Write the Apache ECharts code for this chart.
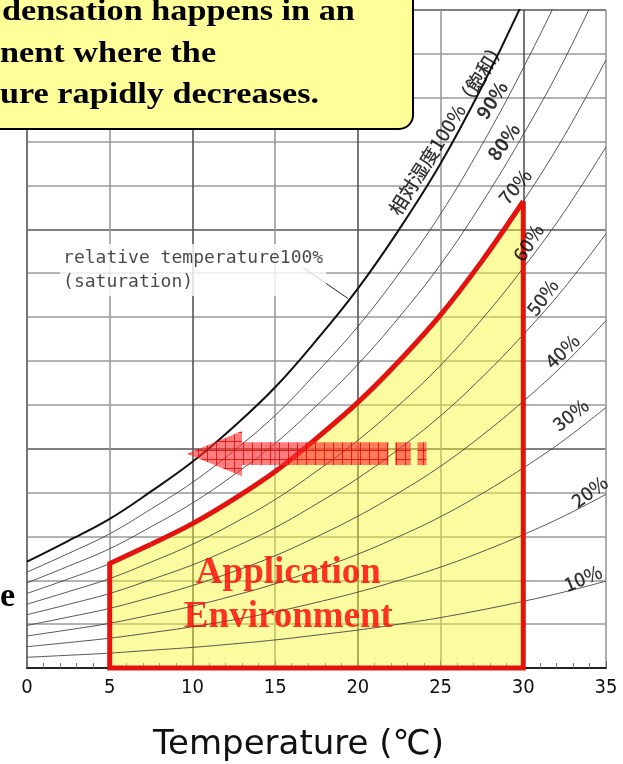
<!DOCTYPE html>
<html>
<head>
<meta charset="utf-8">
<script src="https://cdn.jsdelivr.net/npm/echarts@6/dist/echarts.min.js"></script>
<style>
html,body{margin:0;padding:0;background:#fff;}
#c{width:623px;height:764px;}
</style>
</head>
<body>
<div id="c"></div>
<script>
// ---- data ----
const temps = [0, 2.5, 5, 7.5, 10, 12.5, 15, 17.5, 20, 22.5, 25, 27.5, 30, 32.5, 35];
// absolute humidity (g/m3) along each relative-humidity curve
const rh100 = [4.85, 5.8, 6.8, 8.05, 9.4, 11.0, 12.8, 14.95, 17.3, 20.0, 23.0, 26.5, 30.4, 34.7, 39.6];
const rh90 = [4.37, 5.22, 6.12, 7.25, 8.46, 9.9, 11.52, 13.46, 15.57, 18.0, 20.7, 23.85, 27.36, 31.23, 35.64];
const rh80 = [3.88, 4.64, 5.44, 6.44, 7.52, 8.8, 10.24, 11.96, 13.84, 16.0, 18.4, 21.2, 24.32, 27.76, 31.68];
const rh70 = [3.40, 4.06, 4.76, 5.64, 6.58, 7.7, 8.96, 10.47, 12.11, 14.0, 16.1, 18.55, 21.28, 24.29, 27.72];
const rh60 = [2.91, 3.48, 4.08, 4.83, 5.64, 6.6, 7.68, 8.97, 10.38, 12.0, 13.8, 15.9, 18.24, 20.82, 23.76];
const rh50 = [2.43, 2.9, 3.4, 4.03, 4.7, 5.5, 6.4, 7.48, 8.65, 10.0, 11.5, 13.25, 15.2, 17.35, 19.8];
const rh40 = [1.94, 2.32, 2.72, 3.22, 3.76, 4.4, 5.12, 5.98, 6.92, 8.0, 9.2, 10.6, 12.16, 13.88, 15.84];
const rh30 = [1.46, 1.74, 2.04, 2.42, 2.82, 3.3, 3.84, 4.49, 5.19, 6.0, 6.9, 7.95, 9.12, 10.41, 11.88];
const rh20 = [0.97, 1.16, 1.36, 1.61, 1.88, 2.2, 2.56, 2.99, 3.46, 4.0, 4.6, 5.3, 6.08, 6.94, 7.92];
const rh10 = [0.49, 0.58, 0.68, 0.81, 0.94, 1.1, 1.28, 1.5, 1.73, 2.0, 2.3, 2.65, 3.04, 3.47, 3.96];

// application environment region (5-30 degC, under the 70% curve)
const envTemps = [5, 7.5, 10, 12.5, 15, 17.5, 20, 22.5, 25, 27.5, 30];
const envTop = [4.76, 5.64, 6.58, 7.7, 8.96, 10.47, 12.11, 14.0, 16.1, 18.55, 21.28];

// curve labels
const rhLabelText = ['90%', '80%', '70%', '60%', '50%', '40%', '30%', '20%', '10%', '相対湿度100%（飽和）'];
const rhLabelX = [28.1, 28.8, 29.5, 30.3, 31.15, 32.35, 32.85, 34.0, 33.6, 25.4];
const rhLabelY = [25.9, 24.0, 21.95, 19.4, 16.9, 14.45, 11.55, 8.05, 4.1, 24.65];
const rhLabelRot = [57, 54, 50, 57, 54, 44, 38, 36, 22, 58];

// arrow (cooling) in data coordinates
const arrowTip = [9.67, 9.77];
const arrowHeadBase = 13.0;
const arrowBodyEnd = 21.85;
const arrowDashes = [[22.25, 23.2], [23.6, 24.15]];
const arrowHeadHalf = 1.03;
const arrowBodyHalf = 0.52;

// saturation annotation
const satNoteText = 'relative temperature100%\n(saturation)';
const satNotePos = [2.0, 18.15];
const satLeader = [[16.7, 18.25], [19.4, 16.85]];

const envLabelPos = [15.8, 3.3];

const xTicks = [0, 35, 5];
const yTicks = [0, 30, 2];

// ---- chart ----
const chart = echarts.init(document.getElementById('c'), null, {renderer: 'canvas'});
const pair = (xs, ys) => xs.map((x, i) => [x, ys[i]]);

// hatch pattern for the arrow
const pc = document.createElement('canvas');
pc.width = 9; pc.height = 9;
const g = pc.getContext('2d');
g.fillStyle = 'rgba(255,45,45,0.62)';
g.fillRect(0, 0, 9, 9);
g.strokeStyle = 'rgba(225,0,0,0.75)';
g.lineWidth = 1;
g.beginPath(); g.moveTo(0.5, 0); g.lineTo(0.5, 9); g.moveTo(0, 0.5); g.lineTo(9, 0.5); g.stroke();
const hatch = {image: pc, repeat: 'repeat'};

const curveSet = [rh10, rh20, rh30, rh40, rh50, rh60, rh70, rh80, rh90];
const series = [];
const RED = '#e3140f';

// fill of the application environment
series.push({
  type: 'line', name: 'env-fill', data: pair(envTemps, envTop), showSymbol: false, smooth: 0.35,
  lineStyle: {width: 0}, areaStyle: {color: 'rgba(245,245,35,0.62)', origin: 'start'}, z: 2, silent: true
});

curveSet.forEach((c, i) => {
  series.push({
    type: 'line', name: 'rh' + (i + 1) * 10, data: pair(temps, c), smooth: 0.4, showSymbol: false,
    lineStyle: {color: '#444', width: 0.9}, z: 3, silent: true
  });
});
series.push({
  type: 'line', name: 'rh100', data: pair(temps, rh100), smooth: 0.4, showSymbol: false,
  lineStyle: {color: '#111', width: 2}, z: 4, silent: true
});

// red outline: curved top
series.push({
  type: 'line', name: 'env-top', data: pair(envTemps, envTop).slice(1), smooth: 0.35, showSymbol: false, clip: false,
  lineStyle: {color: RED, width: 5}, z: 5, silent: true
});
// red outline: straight edges
const last = envTemps.length - 1;
const straightEdges = [
  [envTemps[1], envTop[1]], [envTemps[0], envTop[0]], [envTemps[0], 0],
  [envTemps[last], 0], [envTemps[last], envTop[last]]
];
series.push({
  type: 'line', name: 'env-edges', data: straightEdges, showSymbol: false, clip: false,
  lineStyle: {color: RED, width: 5, join: 'miter'}, z: 5, silent: true
});

// arrow
series.push({
  type: 'custom', name: 'arrow', data: [arrowTip], z: 6, silent: true, clip: false,
  renderItem: function (params, api) {
    const y = arrowTip[1];
    const p = (x, yy) => api.coord([x, yy]);
    const pts = [
      p(arrowTip[0], y),
      p(arrowHeadBase, y + arrowHeadHalf),
      p(arrowHeadBase, y + arrowBodyHalf),
      p(arrowBodyEnd, y + arrowBodyHalf),
      p(arrowBodyEnd, y - arrowBodyHalf),
      p(arrowHeadBase, y - arrowBodyHalf),
      p(arrowHeadBase, y - arrowHeadHalf)
    ];
    const children = [{type: 'polygon', shape: {points: pts}, style: {fill: hatch}}];
    arrowDashes.forEach(d => {
      const a = p(d[0], y + arrowBodyHalf), b = p(d[1], y - arrowBodyHalf);
      children.push({type: 'rect', shape: {x: a[0], y: a[1], width: b[0] - a[0], height: b[1] - a[1]}, style: {fill: hatch}});
    });
    return {type: 'group', children: children};
  }
});

// leader line for saturation note
series.push({
  type: 'line', name: 'leader', data: satLeader, showSymbol: false,
  lineStyle: {color: '#222', width: 1}, z: 6, silent: true
});

// saturation note
series.push({
  type: 'scatter', name: 'sat-note', symbolSize: 0, z: 7, silent: true,
  data: [{value: satNotePos}],
  label: {
    show: true, position: 'right', distance: 0, formatter: satNoteText, color: '#1a1a1a',
    fontFamily: 'DejaVu Sans Mono', fontSize: 18, lineHeight: 24, align: 'left', verticalAlign: 'middle',
    backgroundColor: '#fff', padding: [2, 3, 2, 3]
  }
});

// curve labels
series.push({
  type: 'scatter', name: 'rh-labels', symbolSize: 0, z: 7, silent: true,
  data: rhLabelText.map((t, i) => ({
    value: [rhLabelX[i], rhLabelY[i]],
    label: {
      show: true, position: 'inside', formatter: t, rotate: rhLabelRot[i],
      align: 'center', verticalAlign: 'middle',
      fontFamily: 'Noto Sans CJK JP', fontWeight: i < 2 ? 'bold' : 500,
      fontSize: 19, color: '#000'
    }
  }))
});

// application environment label
series.push({
  type: 'scatter', name: 'env-label', symbolSize: 0, z: 7, silent: true,
  data: [{value: envLabelPos}],
  label: {
    show: true, position: 'inside', formatter: 'Application\nEnvironment',
    fontFamily: 'Liberation Serif', fontWeight: 'bold', fontSize: 37, lineHeight: 44,
    color: '#ff0000', align: 'center', verticalAlign: 'middle'
  }
});

const option = {
  animation: false,
  backgroundColor: '#fff',
  grid: {left: 27, right: 17, top: 10, bottom: 96, containLabel: false, outerBoundsMode: 'none'},
  xAxis: {
    type: 'value', min: xTicks[0], max: xTicks[1], interval: xTicks[2],
    axisLine: {show: true, lineStyle: {color: '#222', width: 2}},
    axisTick: {show: true, inside: true, length: 7, lineStyle: {color: '#666'}},
    minorTick: {show: true, splitNumber: 5, length: 5, lineStyle: {color: '#777'}},
    axisLabel: {show: true, margin: 10, fontSize: 20, color: '#111', fontFamily: 'DejaVu Sans Condensed, Liberation Sans Narrow, sans-serif'},
    splitLine: {show: true, lineStyle: {color: ['#555', '#9a9a9a'], width: 1.6}},
    name: 'Temperature (℃)', nameLocation: 'middle', nameGap: 60,
    nameTextStyle: {fontSize: 34, color: '#111', fontFamily: 'DejaVu Sans', verticalAlign: 'top', padding: [0, 36, 0, 0]}
  },
  yAxis: {
    type: 'value', min: yTicks[0], max: yTicks[1], interval: yTicks[2],
    axisLine: {show: true, lineStyle: {color: '#777', width: 1.6}},
    axisTick: {show: false},
    axisLabel: {show: false},
    splitLine: {show: true, lineStyle: {color: ['#555', '#9a9a9a', '#9a9a9a', '#9a9a9a', '#9a9a9a'], width: 1.6}}
  },
  series: series,
  graphic: [
    {
      type: 'rect', z: 100, shape: {x: -30, y: -30, width: 443, height: 159, r: 14},
      style: {fill: '#ffff99', stroke: '#000', lineWidth: 2}
    },
    {type: 'text', z: 101, x: 2, y: 13, scaleX: 1.18,
      style: {text: 'densation happens in an', font: 'bold 29px "Liberation Serif"', fill: '#000', textAlign: 'left', textVerticalAlign: 'middle'}},
    {type: 'text', z: 101, x: 0, y: 55, scaleX: 1.18,
      style: {text: 'nent where the', font: 'bold 29px "Liberation Serif"', fill: '#000', textAlign: 'left', textVerticalAlign: 'middle'}},
    {type: 'text', z: 101, x: 0, y: 96, scaleX: 1.18,
      style: {text: 'ure rapidly decreases.', font: 'bold 29px "Liberation Serif"', fill: '#000', textAlign: 'left', textVerticalAlign: 'middle'}},
    {type: 'text', z: 101, x: 0, y: 597,
      style: {text: 'e', font: 'bold 34px "Liberation Serif"', fill: '#000', textAlign: 'left', textVerticalAlign: 'middle'}}
  ]
};
chart.setOption(option);
</script>
</body>
</html>
